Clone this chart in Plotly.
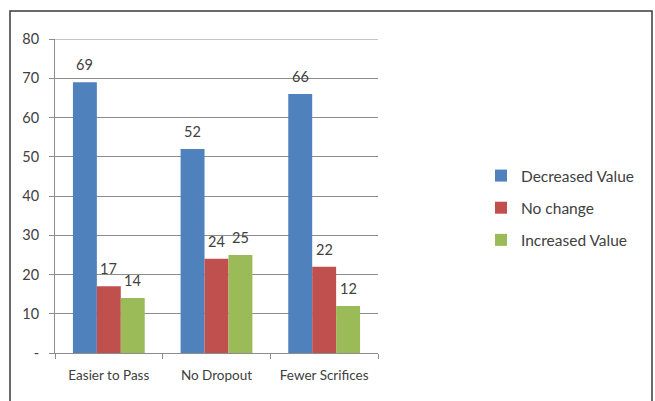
import plotly.graph_objects as go

categories = ["Easier to Pass", "No Dropout", "Fewer Scrifices"]
decreased = [69, 52, 66]
no_change = [17, 24, 22]
increased = [14, 25, 12]
y_ticks = [0, 10, 20, 30, 40, 50, 60, 70, 80]
y_tick_text = ["-", "10", "20", "30", "40", "50", "60", "70", "80"]

FONT = "Lato"
TXT = "#404040"
GRID = "#8C8C8C"
W, H = 655, 401
L, R, T, B = 55, 277, 39, 48
BARGAP = 0.333

series = [
    ("Decreased Value", decreased, "#4F81BD"),
    ("No change", no_change, "#C0504D"),
    ("Increased Value", increased, "#9BBB59"),
]

pw = W - L - R
ph = H - T - B
cat_w = pw / len(categories)
bar_w = cat_w * (1 - BARGAP) / len(series)

fig = go.Figure()
annotations = []
for i, (name, vals, color) in enumerate(series):
    fig.add_trace(go.Bar(
        x=categories, y=vals, name=name, legendgroup=name,
        marker=dict(color=color, line=dict(width=0)),
    ))
    # value labels sit a little above each bar
    offset = (i - (len(series) - 1) / 2) * bar_w
    for c, v in zip(categories, vals):
        annotations.append(dict(
            x=c, y=v, xref="x", yref="y", text=str(v), showarrow=False,
            xshift=offset, yshift=7, yanchor="bottom",
            font=dict(family=FONT, size=14.5, color=TXT),
        ))

fig.update_layout(
    width=W, height=H,
    margin=dict(l=L, r=R, t=T, b=B, pad=0),
    paper_bgcolor="white", plot_bgcolor="white",
    barmode="group", bargap=BARGAP, bargroupgap=0,
    font=dict(family=FONT, size=14, color=TXT),
    legend=dict(
        xref="container", yref="container",
        x=481 / W, y=1 - 159 / H, xanchor="left", yanchor="top",
        font=dict(family=FONT, size=15.5, color=TXT),
        tracegroupgap=9, bgcolor="rgba(0,0,0,0)",
    ),
    showlegend=True,
    annotations=annotations,
)

fig.update_yaxes(
    range=[0, 80], tickvals=y_ticks, ticktext=y_tick_text,
    showgrid=True, gridcolor=GRID, gridwidth=1,
    showline=True, linecolor=GRID, linewidth=1,
    ticks="outside", ticklen=5, tickcolor=GRID,
    ticklabelstandoff=7, zeroline=False,
    tickfont=dict(family=FONT, size=14.5, color=TXT),
)
fig.update_xaxes(
    showgrid=False, showline=True, linecolor=GRID, linewidth=1,
    ticks="outside", ticklen=5, tickcolor=GRID, tickson="boundaries",
    ticklabelstandoff=10,
    tickfont=dict(family=FONT, size=13.5, color=TXT),
)

# top gridline at the axis maximum
fig.add_shape(
    type="line", xref="paper", yref="y", x0=0, x1=1,
    y0=y_ticks[-1], y1=y_ticks[-1],
    line=dict(color=GRID, width=1), layer="below",
)

# outer chart frame
fig.add_shape(
    type="rect", xref="paper", yref="paper",
    x0=(10 - L) / pw, x1=(652 - L) / pw,
    y0=(H - B - 420) / ph, y1=(H - B - 11) / ph,
    line=dict(color="#3A3A3A", width=1.5), fillcolor="rgba(0,0,0,0)",
    layer="below",
)

fig.write_html("out.html")
